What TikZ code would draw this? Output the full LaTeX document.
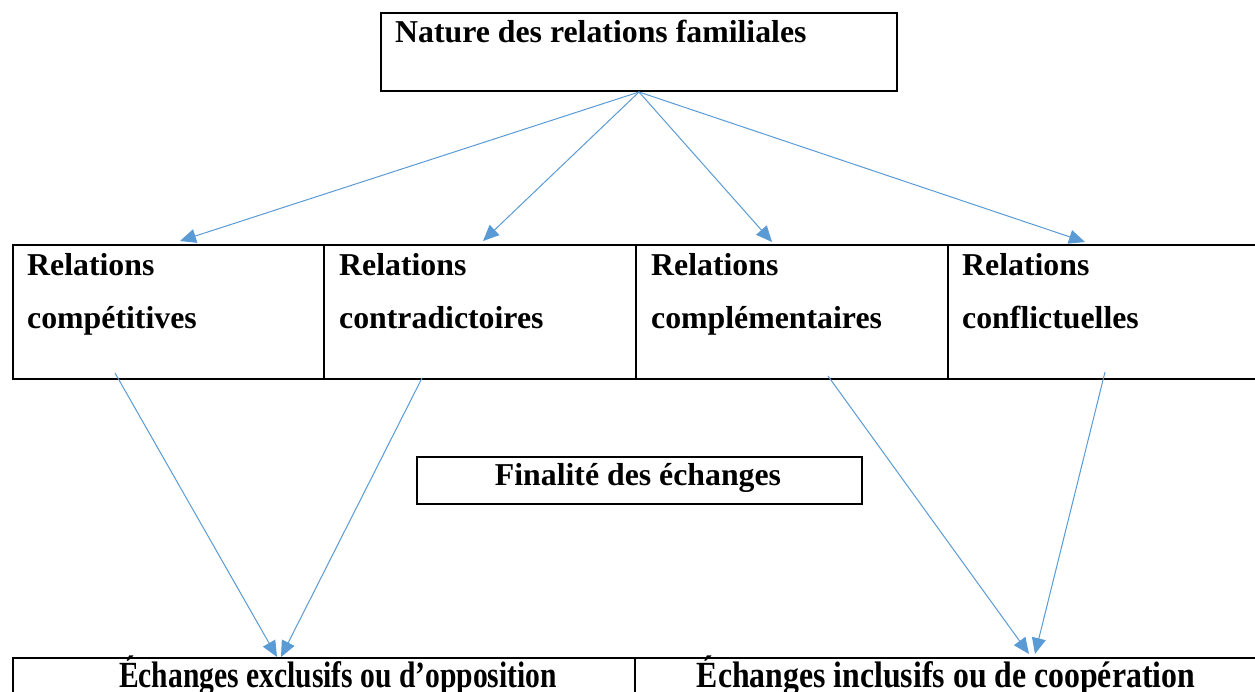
\documentclass[tikz,border=0pt]{standalone}
\usepackage{fontspec}
\setmainfont{Liberation Serif}
\usetikzlibrary{arrows.meta}
\definecolor{arr}{HTML}{5B9BD5}
\begin{document}
\begin{tikzpicture}[x=1pt,y=-1pt,
  box/.style={draw=black,line width=2pt,rectangle,inner sep=0pt,anchor=north west},
  txt/.style={font=\bfseries\fontsize{31.8}{53}\selectfont,inner sep=0pt},
  conn/.style={draw=arr,line width=1pt,-{Triangle[length=16pt,width=14pt]}}]
\clip (0,0) rectangle (1255,692);
\fill[white] (0,0) rectangle (1255,692);
% top box
\node[box,minimum width=516,minimum height=78] (top) at (380,12) {};
\node[txt,anchor=base west] (toptxt) at (395,43) {Nature des relations familiales};
% relation cells
\node[box,minimum width=311,minimum height=134] (c1) at (12,244) {};
\node[box,minimum width=312,minimum height=134] (c2) at (323,244) {};
\node[box,minimum width=312,minimum height=134] (c3) at (635,244) {};
\node[box,minimum width=330,minimum height=134] (c4) at (947,244) {};
\node[txt,anchor=base west,align=left] (t1) at (27,329) {Relations\\compétitives};
\node[txt,anchor=base west,align=left] (t2) at (339,329) {Relations\\contradictoires};
\node[txt,anchor=base west,align=left] (t3) at (651,329) {Relations\\complémentaires};
\node[txt,anchor=base west,align=left] (t4) at (962,329) {Relations\\conflictuelles};
% finalite
\node[box,minimum width=445,minimum height=47] (fin) at (416,456) {};
\node[txt,anchor=base] (fintxt) at (638,485) {Finalité des échanges};
% bottom boxes
\node[box,minimum width=622,minimum height=80] (b1) at (12,657) {};
\node[box,minimum width=640,minimum height=80] (b2) at (634,657) {};
\node[txt,anchor=base] (b1txt) at (338,687) {\scalebox{0.93}[1.16]{Échanges exclusifs ou d’opposition}};
\node[txt,anchor=base] (b2txt) at (946,687) {\scalebox{1.0}[1.16]{Échanges inclusifs ou de coopération}};
% connector ends
\coordinate (e1) at (180,241);
\coordinate (e2) at (483,241);
\coordinate (e3) at (772,242);
\coordinate (e4) at (1085,242);
\coordinate (s1) at (115,373);
\coordinate (s2) at (422,378);
\coordinate (s3) at (828,376);
\coordinate (s4) at (1105,372);
\coordinate (f1) at (277,657);
\coordinate (f2) at (281,657);
\coordinate (f3) at (1029,654);
\coordinate (f4) at (1035,654);
\draw[conn] (top.south) -- (e1);
\draw[conn] (top.south) -- (e2);
\draw[conn] (top.south) -- (e3);
\draw[conn] (top.south) -- (e4);
\draw[conn] (s1) -- (f1);
\draw[conn] (s2) -- (f2);
\draw[conn] (s3) -- (f3);
\draw[conn] (s4) -- (f4);
\end{tikzpicture}
\end{document}
